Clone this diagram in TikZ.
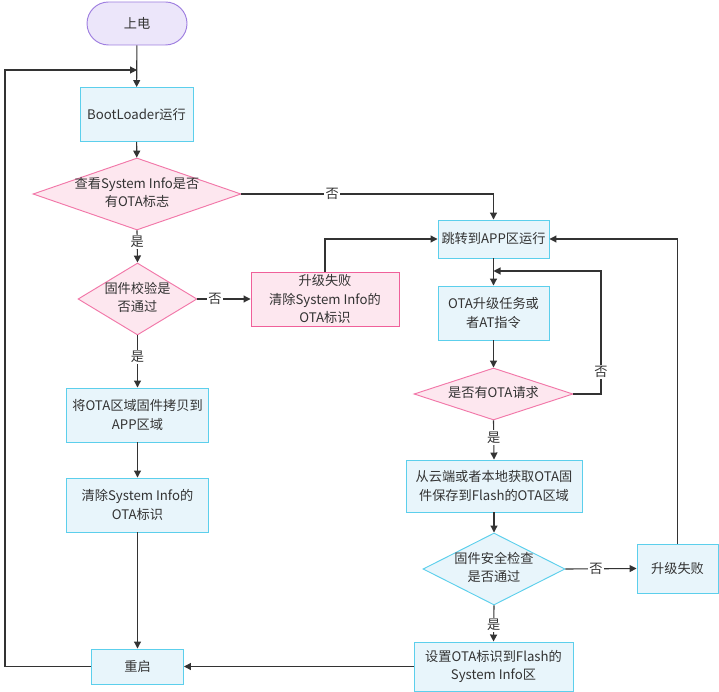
\documentclass[tikz,border=0pt]{standalone}
\usepackage{fontspec}
\setmainfont{Noto Sans CJK SC}
\usetikzlibrary{shapes.geometric,arrows.meta}
\definecolor{ink}{HTML}{333333}
\definecolor{startfill}{HTML}{ECE6FA}
\definecolor{startline}{HTML}{9F7FE0}
\definecolor{cyanfill}{HTML}{E8F5FB}
\definecolor{cyanline}{HTML}{5CCFEC}
\definecolor{pinkfill}{HTML}{FDE7EF}
\definecolor{pinkline}{HTML}{F0609A}
\newcommand\dtext[1]{\makebox[0pt]{\begin{tabular}{@{}c@{}}#1\end{tabular}}}
\tikzset{
  base/.style={font=\fontsize{13.2pt}{18.5pt}\selectfont, text=ink, align=center, line width=0.95pt, inner sep=0pt},
  startbox/.style={base, rectangle, rounded corners=21.5pt, fill=startfill, draw=startline},
  procbox/.style={base, rectangle, fill=cyanfill, draw=cyanline},
  failbox/.style={base, rectangle, fill=pinkfill, draw=pinkline},
  pinkdia/.style={base, diamond, fill=pinkfill, draw=pinkline!85},
  cyandia/.style={base, diamond, fill=cyanfill, draw=cyanline},
  arr/.style={draw=ink, line width=1.1pt, -{Triangle[length=7pt,width=7pt]}},
  lbl/.style={font=\fontsize{13.2pt}{15pt}\selectfont, text=ink, fill=white, inner sep=1.5pt}
}
\begin{document}
\begin{tikzpicture}[x=1pt,y=-1pt]
\useasboundingbox (0,0) rectangle (719,692);

% nodes
\node[startbox, minimum width=100pt, minimum height=43pt] (start) at (137,23.5) {上电};
\node[procbox, minimum width=113pt, minimum height=54pt] (boot) at (136.5,114.5) {BootLoader运行};
\node[pinkdia, minimum width=208pt, minimum height=72pt] (d1) at (137,194) {\dtext{查看System Info是否\\有OTA标志}};
\node[pinkdia, minimum width=119pt, minimum height=72pt] (d2) at (137.5,299) {\dtext{固件校验是\\否通过}};
\node[failbox, minimum width=148pt, minimum height=54pt] (fail1) at (325,299) {升级失败\\清除System Info的\\OTA标识};
\node[procbox, minimum width=142pt, minimum height=54pt] (copy) at (137.5,415) {将OTA区域固件拷贝到\\APP区域};
\node[procbox, minimum width=142pt, minimum height=54pt] (clear) at (137.5,505) {清除System Info的\\OTA标识};
\node[procbox, minimum width=92pt, minimum height=35pt] (restart) at (137.5,666.5) {重启};

\node[procbox, minimum width=111pt, minimum height=38pt] (jump) at (493.5,239) {跳转到APP区运行};
\node[procbox, minimum width=111pt, minimum height=54pt] (task) at (493.5,313) {OTA升级任务或\\者AT指令};
\node[pinkdia, minimum width=159pt, minimum height=52pt] (d3) at (493.5,394) {\dtext{是否有OTA请求}};
\node[procbox, minimum width=176pt, minimum height=52pt] (fetch) at (494,486) {从云端或者本地获取OTA固\\件保存到Flash的OTA区域};
\node[cyandia, minimum width=142pt, minimum height=72pt] (d4) at (494,569) {\dtext{固件安全检查\\是否通过}};
\node[procbox, minimum width=81pt, minimum height=49pt] (fail2) at (677.5,568.5) {升级失败};
\node[procbox, minimum width=159pt, minimum height=49pt] (set) at (493.5,666.5) {设置OTA标识到Flash的\\System Info区};

% junction points where loops rejoin a vertical line
\coordinate (j1) at (137,70);
\coordinate (j2) at (493.5,271);

% connectors
\draw[arr] (start) -- (boot);
\draw[arr] (restart.west) -- (5,666.5) -- (5,70) -- (j1);
\draw[arr] (boot) -- (d1);
\draw[arr] (d1.east) -- node[lbl, pos=0.36] {否} (493.5,194) -- (jump.north);
\draw[arr] (d1.south) -- node[lbl, pos=0.36] {是} (d2.north);
\draw[arr] (d2.east) -- node[lbl, pos=0.33] {否} (fail1.west);
\draw[arr] (d2.south) -- node[lbl, pos=0.41] {是} (copy.north);
\draw[arr] (copy) -- (clear);
\draw[arr] (clear) -- (restart);
\draw[arr] (fail1.north) -- (325,239) -- (jump.west);

\draw[arr] (jump) -- (task);
\draw[arr] (task) -- (d3);
\draw[arr] (d3.east) -- (601,394) -- node[lbl, pos=0.18] {否} (601,271) -- (j2);
\draw[arr] (d3.south) -- node[lbl, pos=0.43] {是} (fetch.north);
\draw[arr] (fetch) -- (d4);
\draw[arr] (d4.east) -- node[lbl, pos=0.43] {否} (fail2.west);
\draw[arr] (d4.south) -- node[lbl, pos=0.54] {是} (set.north);
\draw[arr] (fail2.north) -- (677.5,239) -- (jump.east);
\draw[arr] (set.west) -- (restart.east);
\end{tikzpicture}
\end{document}
